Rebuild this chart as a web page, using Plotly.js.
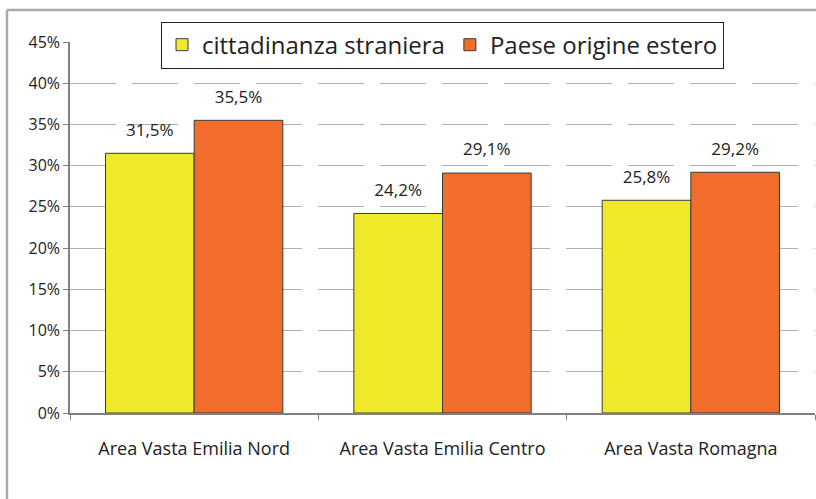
<!DOCTYPE html>
<html><head><meta charset="utf-8">
<script src="https://cdn.plot.ly/plotly-3.0.1.min.js"></script>
<style>html,body{margin:0;padding:0;background:#fff;overflow:hidden}#c{width:816px;height:499px}</style>
</head><body><div id="c"></div>
<script>
const categories = ["Area Vasta Emilia Nord", "Area Vasta Emilia Centro", "Area Vasta Romagna"];
const seriesNames = ["cittadinanza straniera", "Paese origine estero"];
const cittadinanza = [0.315, 0.242, 0.258];
const paeseOrigine = [0.355, 0.291, 0.292];
const yTicks = [0, 0.05, 0.10, 0.15, 0.20, 0.25, 0.30, 0.35, 0.40, 0.45];

const font = "Open Sans, DejaVu Sans, sans-serif";
const colors = ["#EFE92A", "#F26C2B"];
const series = [cittadinanza, paeseOrigine];
const traces = [];
series.forEach((vals, i) => {
  traces.push({type:"bar", name:seriesNames[i], x:categories, y:vals,
    offsetgroup:"g"+i, alignmentgroup:"all",
    marker:{color:colors[i], line:{color:"#3a3a3a", width:1}}, hoverinfo:"skip"});
});
series.forEach((vals, i) => {
  traces.push({type:"scatter", mode:"markers+text", showlegend:false, x:categories, y:vals,
    offsetgroup:"g"+i, alignmentgroup:"all",
    marker:{size:20, opacity:0, color:colors[i]},
    texttemplate:"%{y:.1%}", textposition:"top center", cliponaxis:false,
    textfont:{size:17, color:"#222", family:font}, hoverinfo:"skip"});
});
const layout = {
  width:816, height:499,
  margin:{l:70, r:1, t:42, b:86},
  paper_bgcolor:"#fff", plot_bgcolor:"#fff",
  separators:",.",
  font:{family:font, color:"#222"},
  barmode:"group", bargap:0.286, bargroupgap:0,
  scattermode:"group", scattergap:0.286,
  showlegend:true,
  legend:{orientation:"h", x:0.50, xanchor:"center", y:1.055, yanchor:"top",
    bgcolor:"#fff", bordercolor:"#222", borderwidth:1,
    font:{size:24, family:font, color:"#222"}, itemwidth:30, tracegroupgap:0},
  xaxis:{showline:true, linecolor:"#808080", linewidth:1.5, ticks:"outside",
    tickson:"boundaries", ticklen:5, tickcolor:"#808080",
    tickfont:{size:18, family:font, color:"#222"}, ticklabelstandoff:19,
    showgrid:false},
  yaxis:{range:[0,0.45], tickvals:yTicks, tickformat:".0%",
    showline:true, linecolor:"#808080", linewidth:1.5, ticks:"outside",
    ticklen:5, tickcolor:"#808080",
    tickfont:{size:16, family:font, color:"#222"},
    showgrid:true, gridcolor:"#b0b0b0", gridwidth:1, griddash:"46px,16px",
    zeroline:false},
  shapes:[
    {type:"line", xref:"paper", yref:"paper", x0:-0.0846, x1:1.2, y0:1.0863, y1:1.0863,
     line:{color:"#aaaaaa", width:2.5}, layer:"below"},
    {type:"line", xref:"paper", yref:"paper", x0:-0.0846, x1:-0.0846, y0:-0.3, y1:1.0863,
     line:{color:"#aaaaaa", width:2.5}, layer:"below"}]
};
Plotly.newPlot("c", traces, layout, {displayModeBar:false});
</script></body></html>
